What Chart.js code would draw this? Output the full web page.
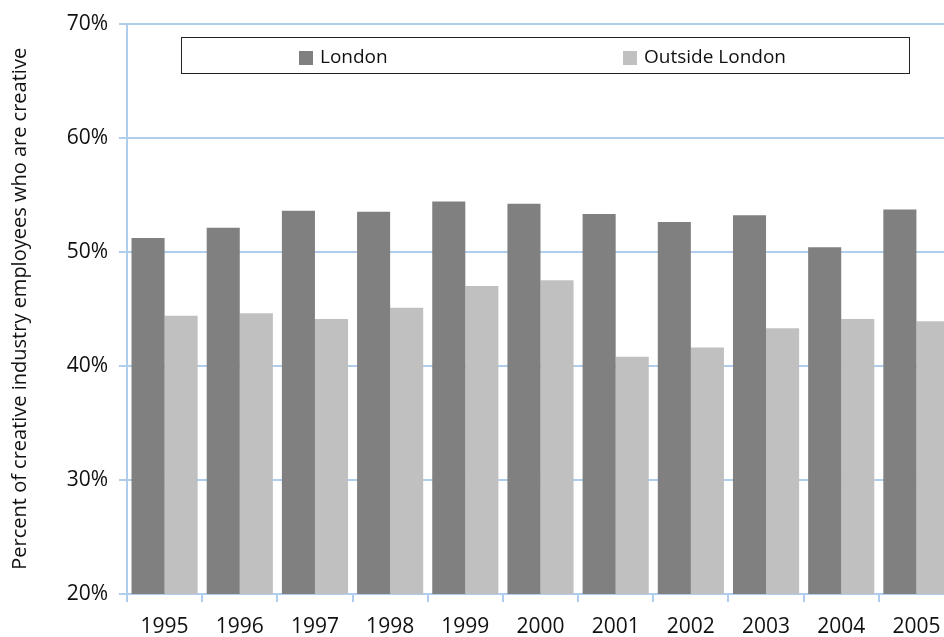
<!DOCTYPE html>
<html>
<head>
<meta charset="utf-8">
<script src="https://cdn.jsdelivr.net/npm/chart.js@4.4.1/dist/chart.umd.min.js"></script>
<style>
  html, body { margin: 0; padding: 0; background: #ffffff; overflow: hidden; width: 944px; height: 637px; }
  canvas { display: block; }
</style>
</head>
<body>
<canvas id="c" width="980" height="637"></canvas>
<script>
const years = ['1995','1996','1997','1998','1999','2000','2001','2002','2003','2004','2005'];
const londonValues = [51.2, 52.1, 53.6, 53.5, 54.4, 54.2, 53.3, 52.6, 53.2, 50.4, 53.7];
const outsideValues = [44.4, 44.6, 44.1, 45.1, 47.0, 47.5, 40.8, 41.6, 43.3, 44.1, 43.9];
const seriesLabels = ['London', 'Outside London'];
const seriesColors = ['#808080', '#c0c0c0'];
const yTickMin = 20, yTickMax = 70, yTickStep = 10;
const yTitle = 'Percent of creative industry employees who are creative';

const FONT = '"Open Sans", "Noto Sans", sans-serif';
const GRID = '#b0cdee';

const boxedLegend = {
  id: 'boxedLegend',
  afterDraw(chart) {
    const ctx = chart.ctx;
    ctx.save();
    ctx.strokeStyle = '#222';
    ctx.lineWidth = 1;
    ctx.fillStyle = '#fff';
    ctx.fillRect(181.5, 37.5, 728, 36);
    ctx.strokeRect(181.5, 37.5, 728, 36);
    const itemX = [299, 623];
    ctx.font = '19px ' + FONT;
    ctx.textBaseline = 'middle';
    ctx.textAlign = 'left';
    chart.data.datasets.forEach((ds, i) => {
      ctx.fillStyle = ds.backgroundColor;
      ctx.fillRect(itemX[i], 51, 14, 14);
      ctx.fillStyle = '#111';
      ctx.fillText(ds.label, itemX[i] + 21, 58);
    });
    ctx.restore();
  }
};

new Chart(document.getElementById('c'), {
  type: 'bar',
  data: {
    labels: years,
    datasets: [
      { label: seriesLabels[0], data: londonValues, backgroundColor: seriesColors[0] },
      { label: seriesLabels[1], data: outsideValues, backgroundColor: seriesColors[1] }
    ]
  },
  options: {
    responsive: false,
    animation: false,
    devicePixelRatio: 1,
    layout: { padding: { top: 23, right: 26, left: 0, bottom: 0 } },
    datasets: { bar: { categoryPercentage: 0.88, barPercentage: 1.0 } },
    plugins: { legend: { display: false }, tooltip: { enabled: false } },
    scales: {
      x: {
        grid: { display: true, offset: true, drawOnChartArea: false, drawTicks: true, tickLength: 8, color: GRID, lineWidth: 2 },
        border: { display: true, color: GRID, width: 2 },
        ticks: { color: '#111', font: { family: FONT, size: 21 }, padding: 12, maxRotation: 0 },
        afterFit(scale) { scale.height = 43; }
      },
      y: {
        min: yTickMin, max: yTickMax,
        grid: { color: GRID, lineWidth: 2, tickLength: 8, drawTicks: true },
        border: { display: true, color: GRID, width: 2 },
        ticks: { stepSize: yTickStep, color: '#111', font: { family: FONT, size: 21 }, padding: 11,
                 callback: v => v + '%' },
        title: { display: true, text: yTitle, color: '#111', font: { family: FONT, size: 20 }, padding: { top: 8, bottom: 0 } },
        afterFit(scale) { scale.width = 127; }
      }
    }
  },
  plugins: [boxedLegend]
});
</script>
</body>
</html>
